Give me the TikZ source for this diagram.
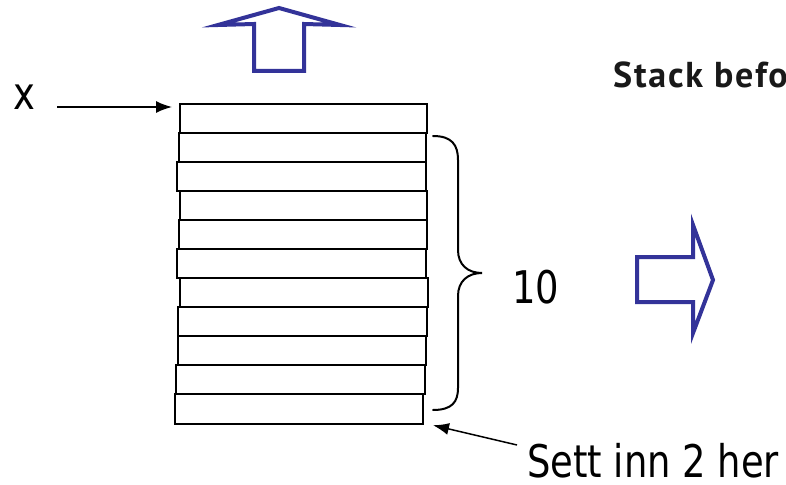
\documentclass[tikz,border=0pt]{standalone}
\usepackage{fontspec}
\usetikzlibrary{arrows.meta}
\newfontfamily\labelfont[FakeStretch=0.82]{DejaVu Sans}
\newfontfamily\titlefont[LetterSpace=5]{PT Sans Bold}
\definecolor{arrowblue}{RGB}{51,51,153}
\definecolor{inkdark}{RGB}{25,25,25}
\tikzset{
  bar/.style={draw=black, line width=1.8pt, fill=white, inner sep=0pt, outer sep=0pt},
  label/.style={inner sep=0pt, outer sep=0pt, font=\labelfont\fontsize{45}{54}\selectfont},
  pointer/.style={line width=1.5pt, -{Latex[length=16pt,width=12pt]}},
  bigarrow/.style={draw=arrowblue, line width=4pt, line join=miter, fill=white},
  brace/.style={line width=2pt, line cap=round}
}
\begin{document}
\begin{tikzpicture}[x=1pt, y=-1pt]
\clip (0,0) rectangle (786,484);
\fill[white] (0,0) rectangle (786,484);

% the stack of eleven slightly uneven plates
\foreach \l/\t/\r/\b [count=\i] in {
  180/104/427/133, 179/133/426/162, 177/162/426/191, 180/191/427/220,
  179/220/427/249, 177/249/426/278, 180/278/428/307, 178/307/427/336,
  178/336/426/365, 176/365/425/394, 175/394/423/424}
  \node[bar, minimum width={(\r-\l)*1pt}, minimum height={(\b-\t)*1pt}]
    (b\i) at ({(\l+\r)/2},{(\t+\b)/2}) {};

% outline arrow pointing up, above the stack
\draw[bigarrow] (254,71) -- (304,71) -- (304,24) -- (340,25) -- (279,8)
  -- (218,25) -- (254,24) -- cycle;

% outline arrow pointing right
\draw[bigarrow] (637,257) -- (693,257) -- (693,225) -- (713,280)
  -- (693,333) -- (693,302) -- (637,302) -- cycle;

% labels
\node[label, anchor=base west] (xlab) at (13,110) {x};
\node[label, anchor=base west] (count) at (512,303) {10};
\node[label, anchor=base west, text depth=0pt] (insert) at (527,477) {Sett inn 2 her};
\node[inner sep=0pt, anchor=base west, text=inkdark,
      font=\titlefont\fontsize{36}{42}\selectfont] (title) at (613,88) {Stack before};

% curly brace grouping the lower ten plates
\coordinate (bracetip) at (482,273);
\draw[brace] (433,136) .. controls (452,136) and (458,145) .. (458,160)
  -- (458,250) .. controls (458,265) and (468,273) .. (bracetip)
  .. controls (468,273) and (458,281) .. (458,296)
  -- (458,388) .. controls (458,402) and (452,410) .. (433,410);

% pointers
\coordinate (xstart) at (57,107);
\draw[pointer, shorten >=8pt] (xstart) -- (b1.west |- xstart);
\coordinate (insstart) at (517,445);
\draw[pointer, shorten >=1pt] (insstart) -- ([shift={(9pt,-1pt)}]b11.south east);
\end{tikzpicture}
\end{document}
